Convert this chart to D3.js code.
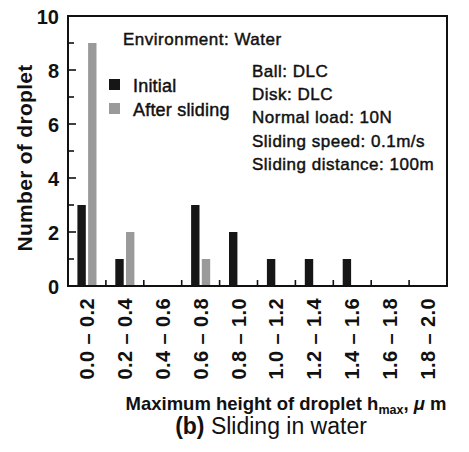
<!DOCTYPE html>
<html>
<head>
<meta charset="utf-8">
<script src="https://cdn.jsdelivr.net/npm/d3@7"></script>
<style>
  html, body { margin: 0; padding: 0; background: #fff; }
  svg { display: block; font-family: "Liberation Sans", Arial, sans-serif; }
  .semi { stroke: #111; stroke-width: 0.45px; }
</style>
</head>
<body>
<svg id="chart" width="469" height="452"></svg>
<script>
// Droplet height bins (µm) and counts per bin
const categories = ["0.0 – 0.2", "0.2 – 0.4", "0.4 – 0.6", "0.6 – 0.8", "0.8 – 1.0",
                    "1.0 – 1.2", "1.2 – 1.4", "1.4 – 1.6", "1.6 – 1.8", "1.8 – 2.0"];
const initialCounts = [3, 1, 0, 3, 2, 1, 1, 1, 0, 0];
const afterCounts   = [9, 2, 0, 1, 0, 0, 0, 0, 0, 0];
const seriesNames = ["Initial", "After sliding"];
const yTicks = [0, 2, 4, 6, 8, 10];
const conditions = ["Ball: DLC", "Disk: DLC", "Normal load: 10N",
                    "Sliding speed: 0.1m/s", "Sliding distance: 100m"];

const colors = { "Initial": "#161616", "After sliding": "#9a9a9a" };

const svg = d3.select("#chart");
const m = { left: 68, right: 447, top: 16, bottom: 286 };

const x = d3.scaleBand().domain(categories).range([m.left, m.right]).padding(0);
const xs = d3.scaleBand().domain(seriesNames).range([0, x.bandwidth()])
  .paddingInner(0.215).paddingOuter(0.88);
const y = d3.scaleLinear().domain([0, 10]).range([m.bottom, m.top]);

// Bars
const rows = categories.map((c, i) => ({ c, vals: [
  { s: "Initial", v: initialCounts[i] },
  { s: "After sliding", v: afterCounts[i] }
]}));
svg.append("g").selectAll("g").data(rows).join("g")
  .attr("transform", d => `translate(${x(d.c)},0)`)
  .selectAll("rect").data(d => d.vals.filter(v => v.v > 0)).join("rect")
  .attr("x", d => xs(d.s))
  .attr("width", xs.bandwidth())
  .attr("y", d => y(d.v))
  .attr("height", d => y(0) - y(d.v))
  .attr("fill", d => colors[d.s]);

// Frame
svg.append("rect")
  .attr("x", m.left).attr("y", m.top)
  .attr("width", m.right - m.left).attr("height", m.bottom - m.top)
  .attr("fill", "none").attr("stroke", "#111").attr("stroke-width", 2);

// Y ticks (inward): major every 2, minor every 1
svg.append("g").selectAll("line").data(d3.range(1, 10)).join("line")
  .attr("x1", m.left).attr("x2", d => m.left + (d % 2 === 0 ? 8 : 6))
  .attr("y1", d => y(d)).attr("y2", d => y(d))
  .attr("stroke", "#111").attr("stroke-width", 1.6);

svg.append("g").selectAll("text").data(yTicks).join("text")
  .attr("x", 59).attr("y", d => y(d) + 8)
  .attr("text-anchor", "end")
  .attr("font-size", 20).attr("font-weight", "bold").attr("fill", "#111")
  .text(d => d);

// X ticks at bin boundaries (inward)
svg.append("g").selectAll("line").data(categories.slice(1)).join("line")
  .attr("x1", d => x(d)).attr("x2", d => x(d))
  .attr("y1", m.bottom).attr("y2", m.bottom - 6)
  .attr("stroke", "#111").attr("stroke-width", 1.6);

svg.append("g").selectAll("text").data(categories).join("text")
  .attr("transform", d => `translate(${x(d) + x.bandwidth() / 2 + 7},298) rotate(-90)`)
  .attr("text-anchor", "end")
  .attr("font-size", 20).attr("font-weight", "bold").attr("fill", "#111")
  .attr("letter-spacing", 0.4)
  .text(d => d);

// Axis titles
svg.append("text")
  .attr("transform", "translate(32,158) rotate(-90)")
  .attr("text-anchor", "middle")
  .attr("font-size", 21).attr("font-weight", "bold").attr("fill", "#111")
  .attr("letter-spacing", 0.3)
  .text("Number of droplet");

const xt = svg.append("text")
  .attr("x", 286).attr("y", 410)
  .attr("text-anchor", "middle")
  .attr("font-size", 18.5).attr("font-weight", "bold").attr("fill", "#111");
xt.append("tspan").text("Maximum height of droplet h");
xt.append("tspan").attr("font-size", 12.5).attr("dy", 4).text("max");
xt.append("tspan").attr("dy", -4).text(",\u00a0");
xt.append("tspan").attr("font-style", "italic").text("μ");
xt.append("tspan").text("\u00a0m");

const cap = svg.append("text")
  .attr("x", 271).attr("y", 434)
  .attr("text-anchor", "middle")
  .attr("font-size", 23).attr("fill", "#111");
cap.append("tspan").attr("font-weight", "bold").text("(b)");
cap.append("tspan").text(" Sliding in water");

// Annotations
svg.append("text").attr("class", "semi")
  .attr("x", 123).attr("y", 45)
  .attr("font-size", 17).attr("letter-spacing", 0.5).attr("fill", "#111")
  .text("Environment: Water");

svg.append("g").selectAll("text").data(conditions).join("text")
  .attr("class", "semi")
  .attr("x", 252).attr("y", (d, i) => 77 + i * 23.2)
  .attr("font-size", 17).attr("letter-spacing", 0.5).attr("fill", "#111")
  .text(d => d);

// Legend
const lg = svg.append("g").selectAll("g").data(seriesNames).join("g")
  .attr("transform", (d, i) => `translate(109,${79 + i * 24})`);
lg.append("rect").attr("width", 11).attr("height", 11).attr("fill", d => colors[d]);
lg.append("text").attr("class", "semi").attr("x", 24).attr("y", 13)
  .attr("font-size", 18).attr("letter-spacing", 0.2).attr("fill", "#111").text(d => d);
</script>
</body>
</html>
